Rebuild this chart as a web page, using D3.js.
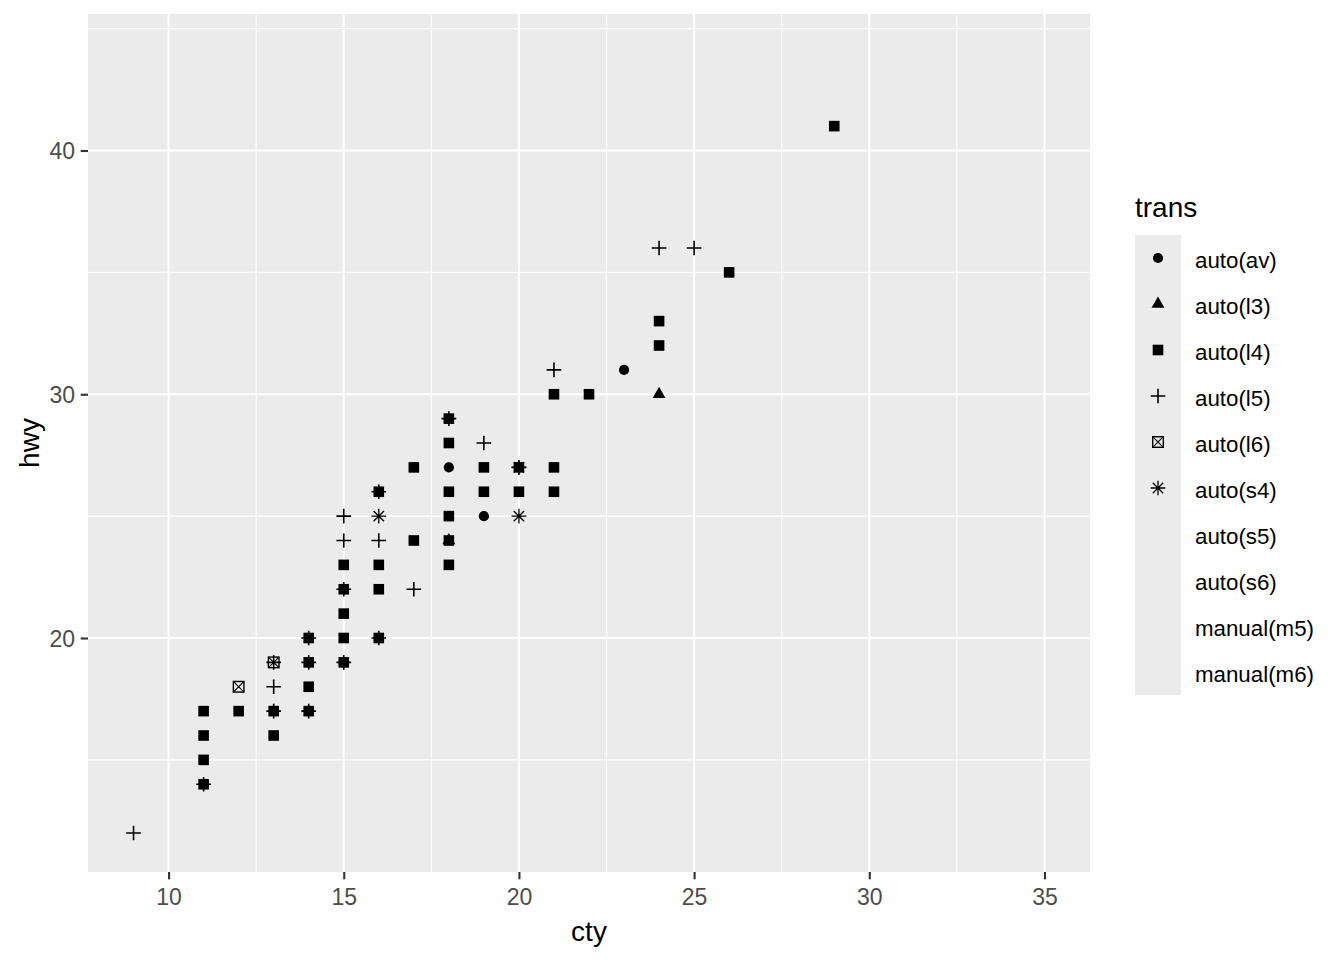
<!DOCTYPE html>
<html>
<head>
<meta charset="utf-8">
<script src="https://cdn.jsdelivr.net/npm/d3@7"></script>
<style>
  html, body { margin: 0; padding: 0; background: #ffffff; }
  svg { display: block; font-family: "Liberation Sans", Arial, sans-serif; }
</style>
</head>
<body>
<svg id="chart" width="1344" height="960"></svg>
<script>
// ---- data ----
const transLevels = ["auto(av)", "auto(l3)", "auto(l4)", "auto(l5)", "auto(l6)", "auto(s4)", "auto(s5)", "auto(s6)", "manual(m5)", "manual(m6)"];
const shapeByTrans = ["circle", "triangle", "square", "plus", "boxx", "asterisk", null, null, null, null];

const ctyVals = [
  // auto(av)
  23, 18, 19,
  // auto(l3)
  24, 18,
  // auto(l4)
  29, 26, 24, 24, 21, 22, 18, 18, 17, 19, 20, 21, 16, 18, 19, 20, 21, 18, 17, 18, 15, 16, 18,
  15, 16, 15, 14, 15, 16, 14, 15, 14, 11, 12, 13, 14, 11, 13, 11, 11,
  // auto(l5)
  24, 25, 21, 19, 18, 20, 16, 15, 15, 16, 15, 17, 14, 16, 13, 14, 15, 13, 13, 14, 11, 9,
  // auto(l6)
  12, 13,
  // auto(s4)
  16, 20, 20
];
const hwyVals = [
  31, 27, 25,
  30, 24,
  41, 35, 33, 32, 30, 30, 29, 28, 27, 27, 27, 27, 26, 26, 26, 26, 26, 25, 24, 24, 23, 23, 23,
  22, 22, 21, 20, 20, 20, 19, 19, 18, 17, 17, 17, 17, 16, 16, 15, 14,
  36, 36, 31, 28, 29, 27, 26, 25, 24, 24, 22, 22, 20, 20, 19, 19, 19, 18, 17, 17, 14, 12,
  18, 19,
  25, 25, 27
];
const transVals = [].concat(
  Array(3).fill("auto(av)"),
  Array(2).fill("auto(l3)"),
  Array(40).fill("auto(l4)"),
  Array(22).fill("auto(l5)"),
  Array(2).fill("auto(l6)"),
  Array(3).fill("auto(s4)")
);
const xTicks = [10, 15, 20, 25, 30, 35];
const yTicks = [20, 30, 40];
const xMinor = [12.5, 17.5, 22.5, 27.5, 32.5];
const yMinor = [15, 25, 35, 45];

// ---- layout ----
const svg = d3.select("#chart");
const panel = { left: 88, right: 1090, top: 14, bottom: 872 };
const x = d3.scaleLinear().domain([7.7, 36.3]).range([panel.left, panel.right]);
const y = d3.scaleLinear().domain([10.4, 45.6]).range([panel.bottom, panel.top]);

svg.append("rect").attr("width", 1344).attr("height", 960).attr("fill", "#ffffff");
svg.append("rect")
  .attr("x", panel.left).attr("y", panel.top)
  .attr("width", panel.right - panel.left).attr("height", panel.bottom - panel.top)
  .attr("fill", "#EBEBEB");

const grid = svg.append("g");
grid.selectAll(".xmin").data(xMinor).enter().append("line")
  .attr("x1", d => x(d)).attr("x2", d => x(d)).attr("y1", panel.top).attr("y2", panel.bottom)
  .attr("stroke", "#ffffff").attr("stroke-width", 1.1);
grid.selectAll(".ymin").data(yMinor).enter().append("line")
  .attr("y1", d => y(d)).attr("y2", d => y(d)).attr("x1", panel.left).attr("x2", panel.right)
  .attr("stroke", "#ffffff").attr("stroke-width", 1.1);
grid.selectAll(".xmaj").data(xTicks).enter().append("line")
  .attr("x1", d => x(d)).attr("x2", d => x(d)).attr("y1", panel.top).attr("y2", panel.bottom)
  .attr("stroke", "#ffffff").attr("stroke-width", 2.1);
grid.selectAll(".ymaj").data(yTicks).enter().append("line")
  .attr("y1", d => y(d)).attr("y2", d => y(d)).attr("x1", panel.left).attr("x2", panel.right)
  .attr("stroke", "#ffffff").attr("stroke-width", 2.1);

// ---- axes ----
const xAxis = d3.axisBottom(x).tickValues(xTicks).tickSize(7.3).tickPadding(4);
const gx = svg.append("g").attr("transform", `translate(0,${panel.bottom})`).call(xAxis);
gx.select(".domain").remove();
gx.selectAll(".tick line").attr("stroke", "#333333").attr("stroke-width", 2.1);
gx.selectAll(".tick text").attr("fill", "#4D4D4D").attr("font-size", "23px")
  .attr("font-family", "Liberation Sans, Arial, sans-serif").attr("dy", "0.71em").attr("y", 17);

const yAxis = d3.axisLeft(y).tickValues(yTicks).tickSize(7.3).tickPadding(6);
const gy = svg.append("g").attr("transform", `translate(${panel.left},0)`).call(yAxis);
gy.select(".domain").remove();
gy.selectAll(".tick line").attr("stroke", "#333333").attr("stroke-width", 2.1);
gy.selectAll(".tick text").attr("fill", "#4D4D4D").attr("font-size", "23px")
  .attr("font-family", "Liberation Sans, Arial, sans-serif").attr("dy", "0.36em").attr("x", -13);

svg.append("text").attr("x", (panel.left + panel.right) / 2).attr("y", 941)
  .attr("text-anchor", "middle").attr("font-size", "28px").attr("fill", "#000000").text("cty");
svg.append("text").attr("transform", `translate(39,${(panel.top + panel.bottom) / 2}) rotate(-90)`)
  .attr("text-anchor", "middle").attr("font-size", "28px").attr("fill", "#000000").text("hwy");

// ---- shapes ----
const R = 5.2;
const SW = 1.6;
function drawShape(g, shape) {
  if (shape === "circle") {
    g.append("circle").attr("r", 5.1).attr("fill", "#000");
  } else if (shape === "triangle") {
    const r = 7.4, xc = 0.866 * r, yc = 0.5 * r;
    g.append("path").attr("d", `M0,${-r}L${xc},${yc}L${-xc},${yc}Z`).attr("fill", "#000");
  } else if (shape === "square") {
    g.append("rect").attr("x", -5.3).attr("y", -5.3).attr("width", 10.6).attr("height", 10.6).attr("fill", "#000");
  } else if (shape === "plus") {
    const h = R * Math.SQRT2;
    g.append("path").attr("d", `M${-h},0H${h}M0,${-h}V${h}`).attr("stroke", "#000").attr("stroke-width", SW).attr("fill", "none");
  } else if (shape === "boxx") {
    const h = 5.3;
    g.append("rect").attr("x", -h).attr("y", -h).attr("width", 2 * h).attr("height", 2 * h)
      .attr("fill", "none").attr("stroke", "#000").attr("stroke-width", 1.4);
    g.append("path").attr("d", `M${-h},${-h}L${h},${h}M${-h},${h}L${h},${-h}`)
      .attr("stroke", "#000").attr("stroke-width", 1.1).attr("fill", "none");
  } else if (shape === "asterisk") {
    const h = R * Math.SQRT2;
    g.append("path").attr("d", `M${-h},0H${h}M0,${-h}V${h}M${-R},${-R}L${R},${R}M${-R},${R}L${R},${-R}`)
      .attr("stroke", "#000").attr("stroke-width", 1.3).attr("fill", "none");
  }
}

const points = ctyVals.map((c, i) => ({ cty: c, hwy: hwyVals[i], trans: transVals[i] }));
const pts = svg.append("g");
points.forEach(p => {
  const shape = shapeByTrans[transLevels.indexOf(p.trans)];
  if (!shape) return;
  const g = pts.append("g").attr("transform", `translate(${x(p.cty)},${y(p.hwy)})`);
  drawShape(g, shape);
});

// ---- legend ----
const legend = svg.append("g");
legend.append("text").attr("x", 1135).attr("y", 217).attr("font-size", "28px").attr("fill", "#000").text("trans");
const keyH = 46, keyTop = 235, keyLeft = 1135, keyW = 46;
legend.append("rect").attr("x", keyLeft).attr("y", keyTop).attr("width", keyW)
  .attr("height", keyH * transLevels.length).attr("fill", "#EBEBEB");
transLevels.forEach((t, i) => {
  const cy = keyTop + keyH * i + keyH / 2;
  const shape = shapeByTrans[i];
  if (shape) {
    const g = legend.append("g").attr("transform", `translate(${keyLeft + keyW / 2},${cy})`);
    drawShape(g, shape);
  }
  legend.append("text").attr("x", 1195).attr("y", cy + 9.5).attr("font-size", "22.3px")
    .attr("fill", "#000").text(t);
});
</script>
</body>
</html>
